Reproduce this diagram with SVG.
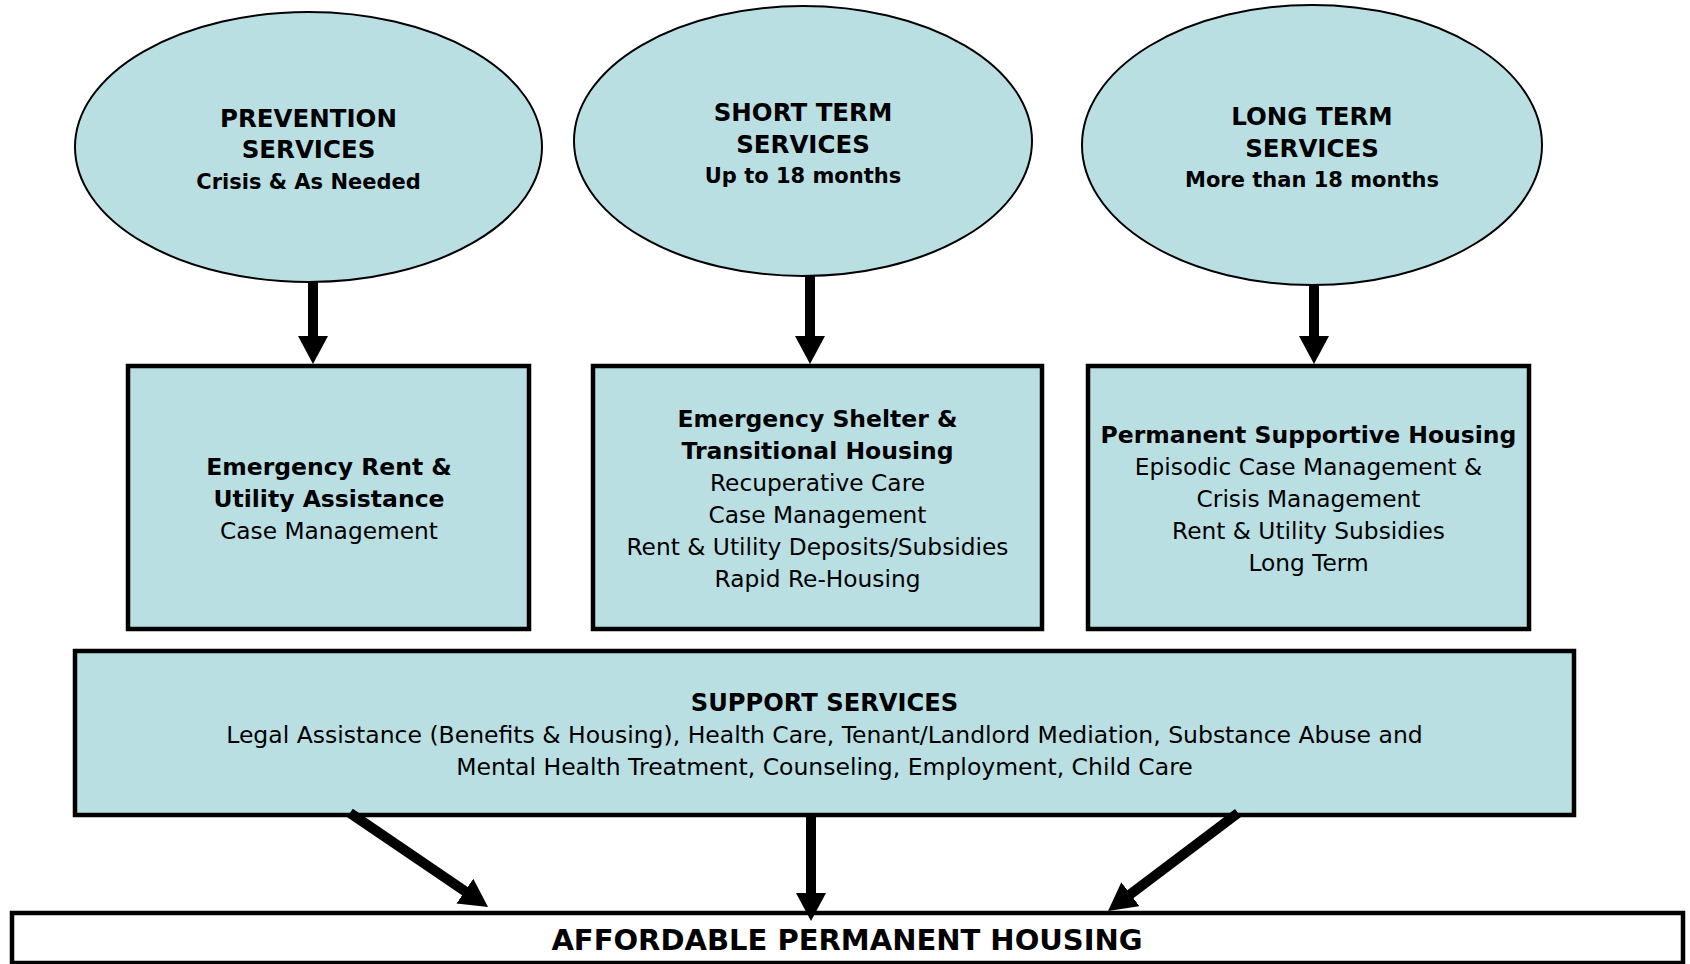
<svg xmlns="http://www.w3.org/2000/svg" width="1690" height="964" viewBox="0 0 1690 964">
  <style>
    .oval { fill: #B9DFE3; stroke: #000; stroke-width: 2; }
    .box { fill: #B9DFE3; stroke: #000; stroke-width: 4.5; }
    .base { fill: #FFFFFF; stroke: #000; stroke-width: 4.5; }
    text { font-family: "DejaVu Sans", "Liberation Sans", sans-serif; fill: #000; text-anchor: middle; }
    .ot { font-size: 24.5px; font-weight: bold; }
    .os { font-size: 21px; font-weight: bold; }
    .bt { font-size: 23.5px; font-weight: bold; }
    .br { font-size: 23.3px; }
    .st { font-size: 24.2px; font-weight: bold; }
    .sr { font-size: 23.5px; }
    .ft { font-size: 29px; font-weight: bold; }
    .conn { stroke: #000; stroke-width: 10; fill: none; marker-end: url(#head); }
  </style>
  <defs>
    <marker id="head" viewBox="0 0 28 30" markerWidth="28" markerHeight="30" refX="8" refY="15" orient="auto" markerUnits="userSpaceOnUse">
      <path d="M0,0 L28,15 L0,30 Z" fill="#000"/>
    </marker>
  </defs>

  <!-- service horizons -->
  <g id="prevention">
    <ellipse class="oval" cx="308.5" cy="147" rx="233.5" ry="135"/>
    <text class="ot" x="308.5" y="127">PREVENTION</text>
    <text class="ot" x="308.5" y="158">SERVICES</text>
    <text class="os" x="308.5" y="189">Crisis &amp; As Needed</text>
  </g>
  <g id="short-term">
    <ellipse class="oval" cx="803" cy="141" rx="229" ry="135"/>
    <text class="ot" x="803" y="121">SHORT TERM</text>
    <text class="ot" x="803" y="153">SERVICES</text>
    <text class="os" x="803" y="183">Up to 18 months</text>
  </g>
  <g id="long-term">
    <ellipse class="oval" cx="1312" cy="145" rx="230" ry="140"/>
    <text class="ot" x="1312" y="125">LONG TERM</text>
    <text class="ot" x="1312" y="157">SERVICES</text>
    <text class="os" x="1312" y="187">More than 18 months</text>
  </g>

  <!-- housing programs -->
  <g id="rent-assistance">
    <rect class="box" x="128" y="366" width="401" height="263"/>
    <text class="bt" x="329" y="475">Emergency Rent &amp;</text>
    <text class="bt" x="329" y="507">Utility Assistance</text>
    <text class="br" x="329" y="539">Case Management</text>
  </g>
  <g id="shelter">
    <rect class="box" x="593" y="366" width="449" height="263"/>
    <text class="bt" x="817.5" y="427">Emergency Shelter &amp;</text>
    <text class="bt" x="817.5" y="459">Transitional Housing</text>
    <text class="br" x="817.5" y="491">Recuperative Care</text>
    <text class="br" x="817.5" y="523">Case Management</text>
    <text class="br" x="817.5" y="555">Rent &amp; Utility Deposits/Subsidies</text>
    <text class="br" x="817.5" y="587">Rapid Re-Housing</text>
  </g>
  <g id="supportive-housing">
    <rect class="box" x="1088" y="366" width="441" height="263"/>
    <text class="bt" x="1308.5" y="443">Permanent Supportive Housing</text>
    <text class="br" x="1308.5" y="475">Episodic Case Management &amp;</text>
    <text class="br" x="1308.5" y="507">Crisis Management</text>
    <text class="br" x="1308.5" y="539">Rent &amp; Utility Subsidies</text>
    <text class="br" x="1308.5" y="571">Long Term</text>
  </g>

  <g id="support-services">
    <rect class="box" x="75" y="651" width="1499" height="164"/>
    <text class="st" x="824.5" y="711">SUPPORT SERVICES</text>
    <text class="sr" x="824.5" y="743">Legal Assistance (Benefits &amp; Housing), Health Care, Tenant/Landlord Mediation, Substance Abuse and</text>
    <text class="sr" x="824.5" y="775">Mental Health Treatment, Counseling, Employment, Child Care</text>
  </g>

  <g id="affordable-housing">
    <rect class="base" x="12" y="913" width="1671" height="50"/>
    <text class="ft" x="847" y="950">AFFORDABLE PERMANENT HOUSING</text>
  </g>

  <!-- connectors -->
  <g id="connectors">
    <line class="conn" x1="313" y1="281" x2="313" y2="344"/>
    <line class="conn" x1="810" y1="275" x2="810" y2="344"/>
    <line class="conn" x1="1314" y1="284" x2="1314" y2="344"/>
    <line class="conn" x1="350" y1="813" x2="471.5" y2="895.7"/>
    <line class="conn" x1="811" y1="816" x2="811" y2="901"/>
    <line class="conn" x1="1238" y1="813" x2="1124" y2="899"/>
  </g>
</svg>
